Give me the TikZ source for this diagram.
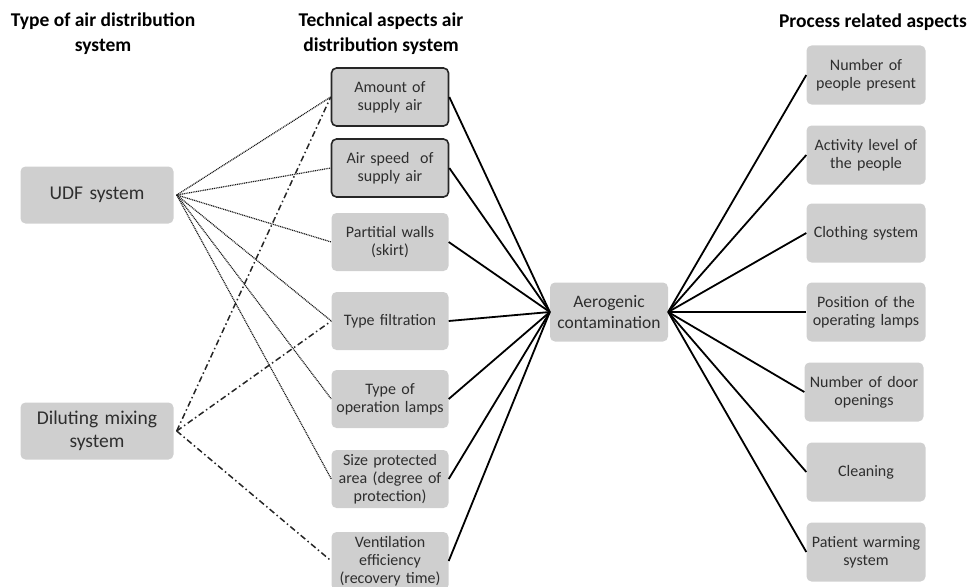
\documentclass[tikz,border=0pt]{standalone}
\usepackage{fontspec}
\setmainfont{Carlito}
\definecolor{boxgray}{HTML}{CFCFCF}
\definecolor{txtgray}{HTML}{2E2E2E}
\begin{document}
\begin{tikzpicture}[x=1pt,y=-1pt,
  box/.style={fill=boxgray,rounded corners=5pt,draw=none,text=txtgray,align=center,
    inner sep=1pt,font=\fontsize{16}{18}\selectfont},
  midbox/.style={box,minimum width=117pt,minimum height=58pt,text width=115pt},
  rightbox/.style={box,minimum width=119pt,minimum height=59pt,text width=117pt},
  leftbox/.style={box,minimum width=153pt,minimum height=57pt,text width=149pt,
    font=\fontsize{19.5}{23}\selectfont},
  header/.style={align=center,font=\bfseries\fontsize{19.5}{25}\selectfont},
  solidln/.style={line width=1.8pt,black},
  dotln/.style={line width=1.2pt,black!90,dash pattern=on 1pt off 0.8pt},
  dashdotln/.style={line width=1.5pt,black!85,dash pattern=on 6pt off 3pt on 1.5pt off 3pt}]
\useasboundingbox (0,0) rectangle (973,586);

% headers
\node[header] (h1) at (103,34) {Type of air distribution\\system};
\node[header] (h2) at (381,34) {Technical aspects air\\distribution system};
\node[header] (h3) at (873,22) {Process related aspects};

% left column
\node[leftbox] (udf) at (97,195) {UDF system};
\node[leftbox] (dil) at (97,431) {Diluting mixing\\system};

% middle column
\node[midbox,draw=black!85,line width=1.6pt] (m1) at (390,97) {Amount of\\supply air};
\node[midbox,draw=black!85,line width=1.6pt] (m2) at (390,168) {Air speed~ of\\supply air};
\node[midbox] (m3) at (390,242) {Partitial walls\\(skirt)};
\node[midbox] (m4) at (390,321) {Type filtration};
\node[midbox] (m5) at (390,399) {Type of\\operation lamps};
\node[midbox] (m6) at (390,479) {Size protected\\area (degree of\\protection)};
\node[midbox] (m7) at (390,561) {Ventilation\\efficiency\\(recovery time)};

% center
\node[box,minimum width=118pt,minimum height=59pt,text width=116pt,
  font=\fontsize{17.5}{21}\selectfont] (c) at (609,312) {Aerogenic\\contamination};

% right column
\node[rightbox] (r1) at (866,75) {Number of\\people present};
\node[rightbox] (r2) at (866,155) {Activity level of\\the people};
\node[rightbox] (r3) at (866,233) {Clothing system};
\node[rightbox] (r4) at (866,312) {Position of the\\operating lamps};
\node[rightbox] (r5) at (864,392) {Number of door\\openings};
\node[rightbox] (r6) at (866,472) {Cleaning};
\node[rightbox] (r7) at (866,552) {Patient warming\\system};

% dotted from UDF
\foreach \m in {m1,m2,m3,m4,m5,m6}
  \draw[dotln] ([xshift=3pt]udf.east) -- (\m.west);
% dash-dot from Diluting
\foreach \m in {m1,m4,m7}
  \draw[dashdotln] ([xshift=3pt]dil.east) -- (\m.west);
% solid to center
\foreach \m in {m1,m2,m3,m4,m5,m6,m7}
  \draw[solidln] (\m.east) -- (c.west);
\foreach \r in {r1,r2,r3,r4,r5,r6,r7}
  \draw[solidln] (c.east) -- (\r.west);
\end{tikzpicture}
\end{document}
